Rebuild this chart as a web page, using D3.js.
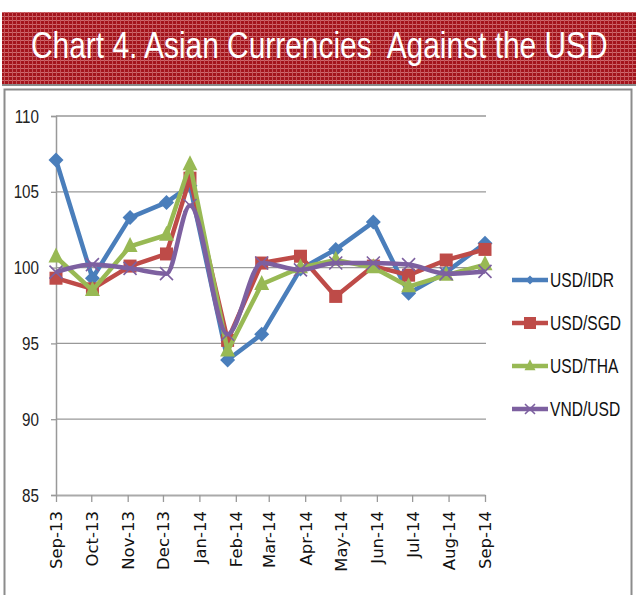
<!DOCTYPE html>
<html lang="en">
<head>
<meta charset="utf-8"/>
<title>Chart 4. Asian Currencies Against the USD</title>
<script src="https://d3js.org/d3.v7.min.js"></script>
<style>
    body { margin: 0; background: #fff; }
    svg { display: block; }
</style>
</head>
<body>
<div id="viz"></div>

<script type="text/javascript">

    // data (index values)
    const obsDates = ["2013-09-01", "2013-10-02", "2013-11-03", "2013-12-04", "2013-12-24", "2014-01-25",
        "2014-02-23", "2014-03-28", "2014-04-27", "2014-05-29", "2014-06-28", "2014-07-30", "2014-09-01"];
    const usdIdr = [107.1, 99.3, 103.3, 104.3, 105.4, 93.9, 95.6, 99.9, 101.2, 103.0, 98.3, 99.7, 101.6];
    const usdSgd = [99.3, 98.6, 100.1, 100.9, 105.9, 95.2, 100.3, 100.75, 98.1, 100.1, 99.5, 100.5, 101.2];
    const usdTha = [100.7, 98.5, 101.4, 102.15, 106.8, 94.5, 98.9, 100.0, 100.5, 100.0, 98.75, 99.5, 100.2];
    const vndUsd = [99.7, 100.2, 99.95, 99.6, 104.1, 95.6, 100.3, 99.85, 100.3, 100.3, 100.2, 99.6, 99.75];
    const seriesNames = ["USD/IDR", "USD/SGD", "USD/THA", "VND/USD"];
    const yTicks = [85, 90, 95, 100, 105, 110];

    const blue = "#4a7ebb", red = "#be4b48", green = "#98b954", purple = "#7d60a0";
    const narrow = "'Liberation Sans', Arial, sans-serif"; // squeezed with scaleX below
    const squeeze = 0.8;

    const W = 636, H = 595;
    const svg = d3.select("#viz").append("svg").attr("width", W).attr("height", H);

    // header pattern (dark red woven texture)
    const defs = svg.append("defs");
    const pat = defs.append("pattern").attr("id", "weave")
        .attr("width", 4).attr("height", 4).attr("patternUnits", "userSpaceOnUse");
    pat.append("rect").attr("width", 4).attr("height", 4).attr("fill", "#a3141c");
    pat.append("rect").attr("width", 4).attr("height", 1).attr("fill", "#cd6a6e");
    pat.append("rect").attr("width", 1).attr("height", 4).attr("fill", "#c45258");

    svg.append("rect").attr("x", 2).attr("y", 12).attr("width", W - 2).attr("height", 72)
        .attr("fill", "url(#weave)");
    svg.append("rect").attr("x", 2).attr("y", 84).attr("width", W - 2).attr("height", 2)
        .attr("fill", "#8a8a8a");

    // title, squeezed to the condensed width of the original
    const title = svg.append("text")
        .attr("x", 0).attr("y", 0)
        .style("font-family", narrow)
        .style("font-size", "37px")
        .style("white-space", "pre")
        .attr("fill", "#fff")
        .text("Chart 4. Asian Currencies  Against the USD");
    const tw = title.node().getComputedTextLength();
    title.attr("transform", "translate(31,58) scale(" + (577 / tw) + ",1)");

    // chart frame
    svg.append("rect").attr("x", 4.5).attr("y", 89.5).attr("width", 627).attr("height", 520)
        .attr("fill", "none").attr("stroke", "#8c8c8c").attr("stroke-width", 2);

    // scales
    const parse = d3.timeParse("%Y-%m-%d");
    const dates = obsDates.map(parse);
    const x = d3.scaleTime()
        .domain([parse("2013-09-01"), parse("2014-09-01")])
        .range([56, 485]);
    const y = d3.scaleLinear().domain([85, 110]).range([495, 116]);

    // gridlines
    svg.append("g")
        .selectAll("line")
        .data(yTicks.filter(d => d > 85))
        .enter().append("line")
        .attr("x1", 56).attr("x2", 486)
        .attr("y1", d => y(d)).attr("y2", d => y(d))
        .attr("stroke", "#999").attr("stroke-width", 1.3);

    // y axis
    const yAxis = d3.axisLeft(y).tickValues(yTicks).tickSize(5);
    const gy = svg.append("g")
        .attr("transform", "translate(56,0)")
        .style("font-family", narrow)
        .style("font-size", "19px")
        .call(yAxis);
    gy.select(".domain").attr("stroke", "#999").attr("stroke-width", 1.5);
    gy.selectAll(".tick line").attr("stroke", "#999").attr("stroke-width", 1.3);
    gy.selectAll(".tick text")
        .attr("fill", "#222")
        .attr("x", -17 / squeeze)
        .attr("transform", "scale(" + squeeze + ",1)");

    // x axis, monthly date axis
    const xAxis = d3.axisBottom(x)
        .ticks(d3.timeMonth.every(1))
        .tickFormat(d3.timeFormat("%b-%y"))
        .tickSizeInner(7).tickSizeOuter(0);
    const gx = svg.append("g")
        .attr("transform", "translate(0,495)")
        .style("font-family", "'DejaVu Sans', sans-serif")
        .style("font-size", "16.5px")
        .call(xAxis);
    gx.select(".domain").attr("stroke", "#aaa").attr("stroke-width", 2);
    gx.selectAll(".tick line").attr("stroke", "#999").attr("stroke-width", 1.3);
    gx.selectAll(".tick text")
        .attr("fill", "#111")
        .attr("transform", "rotate(-90)")
        .attr("text-anchor", "end")
        .attr("x", -16).attr("y", 0).attr("dy", "0.36em");

    // series
    const series = [
        {name: seriesNames[0], values: usdIdr, color: blue, marker: "diamond", curve: d3.curveLinear},
        {name: seriesNames[1], values: usdSgd, color: red, marker: "square", curve: d3.curveLinear},
        {name: seriesNames[2], values: usdTha, color: green, marker: "triangle", curve: d3.curveLinear},
        {name: seriesNames[3], values: vndUsd, color: purple, marker: "cross", curve: d3.curveMonotoneX}
    ];

    function drawMarker(g, type, color, s) {
        if (type === "diamond") {
            g.append("path").attr("d", `M0,${-s}L${s},0L0,${s}L${-s},0Z`).attr("fill", color);
        } else if (type === "square") {
            g.append("rect").attr("x", -s).attr("y", -s).attr("width", 2 * s).attr("height", 2 * s).attr("fill", color);
        } else if (type === "triangle") {
            g.append("path").attr("d", `M0,${-s * 1.25}L${s},${s * 0.75}L${-s},${s * 0.75}Z`).attr("fill", color);
        } else {
            g.append("path").attr("d", `M${-s},${-s}L${s},${s}M${-s},${s}L${s},${-s}`)
                .attr("stroke", color).attr("stroke-width", 1.6).attr("fill", "none");
        }
    }

    const markerSize = {diamond: 7.5, square: 6.5, triangle: 7.5, cross: 6.5};

    series.forEach(function (s) {
        const line = d3.line()
            .x((d, i) => x(dates[i]))
            .y(d => y(d))
            .curve(s.curve);
        svg.append("path")
            .attr("d", line(s.values))
            .attr("fill", "none")
            .attr("stroke", s.color)
            .attr("stroke-width", 4.5)
            .attr("stroke-linejoin", "round");

        svg.append("g")
            .selectAll("g")
            .data(s.values)
            .enter().append("g")
            .attr("transform", (d, i) => "translate(" + x(dates[i]) + "," + y(d) + ")")
            .each(function () {
                drawMarker(d3.select(this), s.marker, s.color, markerSize[s.marker]);
            });
    });

    // legend
    const legend = svg.append("g").attr("transform", "translate(512,280)");
    const legendMarker = {diamond: 4.5, square: 6, triangle: 5.5, cross: 5};
    series.forEach(function (s, i) {
        const row = legend.append("g").attr("transform", "translate(0," + (i * 43) + ")");
        row.append("line").attr("x1", 0).attr("x2", 36).attr("y1", 0).attr("y2", 0)
            .attr("stroke", s.color).attr("stroke-width", 4.5);
        const m = row.append("g").attr("transform", "translate(18,0)");
        drawMarker(m, s.marker, s.color, legendMarker[s.marker]);
        row.append("text")
            .attr("transform", "translate(38,0) scale(" + squeeze + ",1)")
            .attr("dy", "0.36em")
            .style("font-family", narrow)
            .style("font-size", "19.5px")
            .attr("fill", "#111")
            .text(s.name);
    });

</script>
</body>
</html>
